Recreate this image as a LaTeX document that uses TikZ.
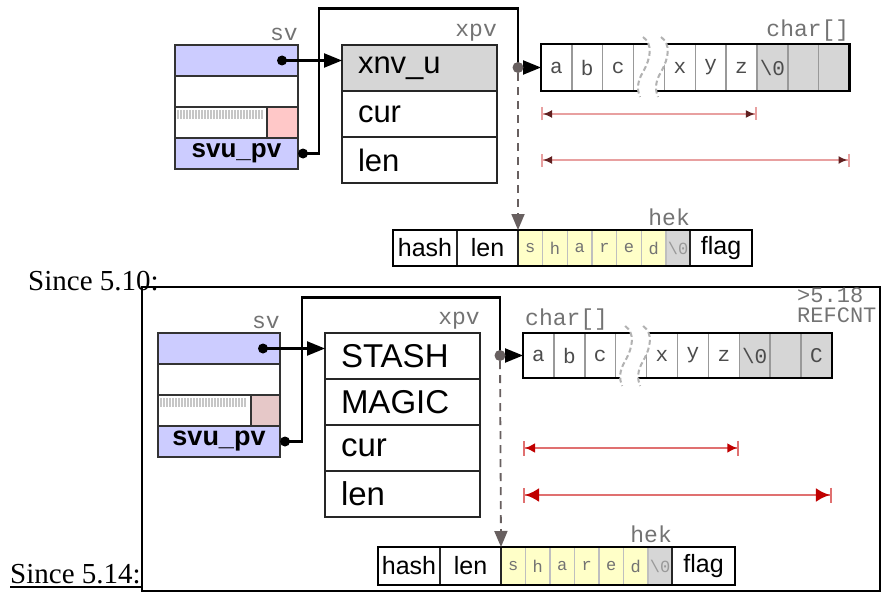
\documentclass[tikz,border=0pt]{standalone}
\usepackage{fontspec}
\setmainfont{Liberation Serif}
\setsansfont{Liberation Sans}
\setmonofont{Liberation Mono}
\usetikzlibrary{positioning, arrows.meta, calc}

\definecolor{svblue}{HTML}{CCCCFF}
\definecolor{flagpink}{HTML}{FFC8C8}
\definecolor{flagdust}{HTML}{E6C8C8}
\definecolor{fieldgrey}{HTML}{D6D6D6}
\definecolor{shyellow}{HTML}{FFFFC8}
\definecolor{dimpink}{HTML}{E8A0A0}
\definecolor{dimbrown}{HTML}{602020}
\definecolor{dimred}{HTML}{E07070}
\definecolor{dimdark}{HTML}{C00000}
\definecolor{ptrgrey}{HTML}{686060}

\begin{document}
\begin{tikzpicture}[x=1pt, y=-1pt, line join=miter,
    cell/.style={inner sep=0pt, outer sep=0pt, anchor=north west},
    svrow/.style={cell, draw=black!80, line width=1.8pt, minimum width=123pt, minimum height=31pt},
    xrow/.style={cell, draw=black!85, line width=2pt, minimum width=155pt, minimum height=46pt,
                 text width=123pt, inner xsep=16pt, align=left, font=\sffamily\fontsize{#1}{#1}\selectfont},
    ch/.style={cell, draw=gray!80, line width=1.4pt, minimum width=30.85pt, minimum height=#1,
               font=\ttfamily\fontsize{21}{21}\selectfont, text=black!70},
    hk/.style={cell, draw=black!85, line width=1.6pt, minimum height=#1, font=\sffamily\fontsize{25}{25}\selectfont},
    sh/.style={cell, draw=gray!50, line width=1.1pt, fill=shyellow, minimum height=#1,
               font=\ttfamily\fontsize{17}{17}\selectfont, text=black!55},
    tag/.style={font=\ttfamily\fontsize{23}{23}\selectfont, text=black!55, inner sep=0pt},
    ptr/.style={line width=2.2pt, -{Triangle[length=18pt,width=14pt]}},
    hekptr/.style={ptrgrey, line width=1.8pt, dash pattern=on 8pt off 6pt, -{Triangle[length=16pt,width=13pt]}},
    dot/.style={circle, fill=black, inner sep=0pt, minimum size=10pt},
    greydot/.style={circle, fill=ptrgrey, inner sep=0pt, minimum size=11pt},
    dimtop/.style={dimpink, line width=2.6pt,
      {Bar[width=13pt,line width=2pt]Latex[length=9pt,width=8pt,color=dimbrown]}-{Latex[length=9pt,width=8pt,color=dimbrown]Bar[width=13pt,line width=2pt]}},
    dimbot/.style={dimred, line width=2.6pt,
      {Bar[width=15pt,line width=2pt]Latex[length=#1,width=#1,color=dimdark]}-{Latex[length=#1,width=#1,color=dimdark]Bar[width=15pt,line width=2pt]}},
    since/.style={font=\fontsize{29}{29}\selectfont, inner sep=0pt, anchor=base west}]

  \useasboundingbox (0,0) rectangle (883,599);

  % ---------- version 5.10 ----------
  % sv head
  \node[svrow, fill=svblue] (tsv1) at (175,45) {};
  \node[svrow, below=0pt of tsv1] (tsv2) {};
  \node[svrow, below=0pt of tsv2] (tsv3) {};
  \node[svrow, fill=svblue, below=0pt of tsv3, font=\sffamily\bfseries\fontsize{26}{26}\selectfont] (tsv4) {svu\_pv};
  \node[cell, draw=black!80, line width=1.8pt, fill=flagpink, anchor=north east,
        minimum width=31pt, minimum height=31pt] (tflag) at (tsv3.north east) {};
  \foreach \t in {0,3,...,84}
    \draw[gray!45, line width=1.2pt] ($(tsv3.north west)+(3+\t,3)$) -- ++(0,9);
  \node[tag, anchor=south east] (tsvlbl) at ($(tsv1.north east)+(0,-4)$) {sv};

  % xpv body
  \node[xrow=31, fill=fieldgrey] (txp1) at (342,45) {xnv\_u};
  \node[xrow=31, below=0pt of txp1] (txp2) {cur};
  \node[xrow=31, below=0pt of txp2] (txp3) {len};
  \node[tag, anchor=south east] (txplbl) at ($(txp1.north east)+(0,-4)$) {xpv};

  % char buffer
  \foreach \c/\f [count=\i from 0] in {a/white,b/white,c/white,/white,x/white,y/white,z/white,
                                       {\textbackslash 0}/fieldgrey,/fieldgrey,/fieldgrey}
    \node[ch=47pt, fill=\f] (tc\i) at ({541+30.85*\i},44) {\c};
  \draw[line width=2.2pt] (tc0.north west) rectangle (tc9.south east);
  \node[tag, anchor=south east] (tchlbl) at ($(tc9.north east)+(0,-3)$) {char[]};

  % hek
  \foreach \c [count=\i] in {s,h,a,r,e,d}
    \node[sh=36pt, minimum width=24.67pt] (ts\i) at ({518+24.67*(\i-1)},230) {\c};
  \node[hk=36pt, minimum width=64pt] (thash) at (393,230) {hash};
  \node[hk=36pt, minimum width=61pt, right=0pt of thash] (tlen) {len};
  \node[sh=36pt, minimum width=24pt, fill=fieldgrey, text=black!40] (tnul) at (666,230) {\textbackslash 0};
  \node[hk=36pt, minimum width=62pt, right=0pt of tnul] (tflg) {flag};
  \draw[line width=2pt] (thash.north west) rectangle (tflg.south east);
  \node[tag, anchor=south east] (theklbl) at ($(tnul.north east)+(0,-4)$) {hek};

  % pointers
  \node[dot] (tsvdot) at ($(tsv1.east)+(-16,0)$) {};
  \draw[ptr] (tsvdot.center) -- (tsvdot -| txp1.west);
  \node[dot] (tpvdot) at ($(tsv4.east)+(5,0)$) {};
  \coordinate (tstr) at ($(tc0.west)+(-23,0)$);
  \draw[ptr] (tpvdot.center) -- ++(16,0) -- ++(0,-145) -| (tstr) -- (tc0.west);
  \node[greydot] (tstrdot) at (tstr) {};
  \draw[hekptr] (tstrdot) -- (ts1.north west);

  % lengths
  \draw[dimtop] ($(tc0.south west)+(0,23)$) -- ($(tc6.south east)+(0,23)$);
  \draw[dimtop] ($(tc0.south west)+(0,69)$) -- ($(tc9.south east)+(0,69)$);

  \node[since] (since10) at (28,290) {Since 5.10:};

  % ---------- version 5.14 ----------
  \draw[line width=1.2pt] (142,287) rectangle (880,591);
  \draw[line width=2.4pt] (142,591) -- (880,591);

  % sv head
  \node[svrow, minimum width=122pt, fill=svblue] (bsv1) at (158,333) {};
  \node[svrow, minimum width=122pt, below=0pt of bsv1] (bsv2) {};
  \node[svrow, minimum width=122pt, below=0pt of bsv2] (bsv3) {};
  \node[svrow, minimum width=122pt, fill=svblue, below=0pt of bsv3, font=\sffamily\bfseries\fontsize{27}{27}\selectfont] (bsv4) {svu\_pv};
  \node[cell, draw=black!80, line width=1.8pt, fill=flagdust, anchor=north east,
        minimum width=29pt, minimum height=31pt] (bflag) at (bsv3.north east) {};
  \foreach \t in {0,3,...,84}
    \draw[gray!45, line width=1.2pt] ($(bsv3.north west)+(3+\t,3)$) -- ++(0,9);
  \node[tag, anchor=south east] (bsvlbl) at ($(bsv1.north east)+(0,-4)$) {sv};

  % xpv body
  \node[xrow=33] (bxp1) at (325,333) {STASH};
  \node[xrow=33, below=0pt of bxp1] (bxp2) {MAGIC};
  \node[xrow=33, below=0pt of bxp2] (bxp3) {cur};
  \node[xrow=33, below=0pt of bxp3] (bxp4) {len};
  \node[tag, anchor=south east] (bxplbl) at ($(bxp1.north east)+(0,-4)$) {xpv};

  % char buffer
  \foreach \c/\f [count=\i from 0] in {a/white,b/white,c/white,/white,x/white,y/white,z/white,
                                       {\textbackslash 0}/fieldgrey,/fieldgrey,C/fieldgrey}
    \node[ch=45pt, fill=\f] (bc\i) at ({523+30.9*\i},333) {\c};
  \draw[line width=2.2pt] (bc0.north west) rectangle (bc9.south east);
  \node[tag, anchor=south west] (bchlbl) at ($(bc0.north west)+(2,-3)$) {char[]};
  \node[tag, anchor=north west, align=left, font=\ttfamily\fontsize{22}{20}\selectfont] (brefc) at (797,288) {>5.18\\REFCNT};

  % hek
  \foreach \c [count=\i] in {s,h,a,r,e,d}
    \node[sh=38pt, minimum width=24.5pt] (bs\i) at ({501+24.5*(\i-1)},547) {\c};
  \node[hk=38pt, minimum width=62pt] (bhash) at (378,547) {hash};
  \node[hk=38pt, minimum width=61pt, right=0pt of bhash] (blen) {len};
  \node[sh=38pt, minimum width=24pt, fill=fieldgrey, text=black!40] (bnul) at (648,547) {\textbackslash 0};
  \node[hk=38pt, minimum width=63pt, right=0pt of bnul] (bflg) {flag};
  \draw[line width=2pt] (bhash.north west) rectangle (bflg.south east);
  \node[tag, anchor=south east] (bheklbl) at ($(bnul.north east)+(0,-4)$) {hek};

  % pointers
  \node[dot] (bsvdot) at ($(bsv1.east)+(-17,0)$) {};
  \draw[ptr] (bsvdot.center) -- (bsvdot -| bxp1.west);
  \node[dot] (bpvdot) at ($(bsv4.east)+(5,0)$) {};
  \coordinate (bstr) at ($(bc0.west)+(-23,0)$);
  \draw[ptr] (bpvdot.center) -- ++(17,0) -- ++(0,-144) -| (bstr) -- (bc0.west);
  \node[greydot] (bstrdot) at (bstr) {};
  \draw[hekptr] (bstrdot) -- (bs1.north west);

  % lengths
  \draw[dimbot=10pt] ($(bc0.south west)+(0,70)$) -- ($(bc6.south east)+(0,70)$);
  \draw[dimbot=14pt] ($(bc0.south west)+(0,117)$) -- ($(bc9.south east)+(0,117)$);

  % ---------- cut marks in both buffers ----------
  \foreach \n in {tc3,bc3} {
    \begin{scope}[shift={(\n.north)}]
      \fill[white] (-6,-7) .. controls (4,0) and (2,14) .. (-6,28) .. controls (-12,38) and (-12,46) .. (-9,53)
        -- (9,53) .. controls (6,46) and (6,38) .. (12,28) .. controls (20,14) and (22,0) .. (12,-7) -- cycle;
      \draw[gray!60, line width=2pt, dash pattern=on 5pt off 3pt]
        (-6,-7) .. controls (4,0) and (2,14) .. (-6,28) .. controls (-12,38) and (-12,46) .. (-9,53);
      \draw[gray!60, line width=2pt, dash pattern=on 5pt off 3pt]
        (12,-7) .. controls (22,0) and (20,14) .. (12,28) .. controls (6,38) and (6,46) .. (9,53);
    \end{scope}
  }

  \node[since] (since14) at (10,583) {Since 5.14:};
  \draw[line width=1.2pt] ($(since14.base west)+(0,4)$) -- ($(since14.base east)+(0,4)$);

\end{tikzpicture}
\end{document}
